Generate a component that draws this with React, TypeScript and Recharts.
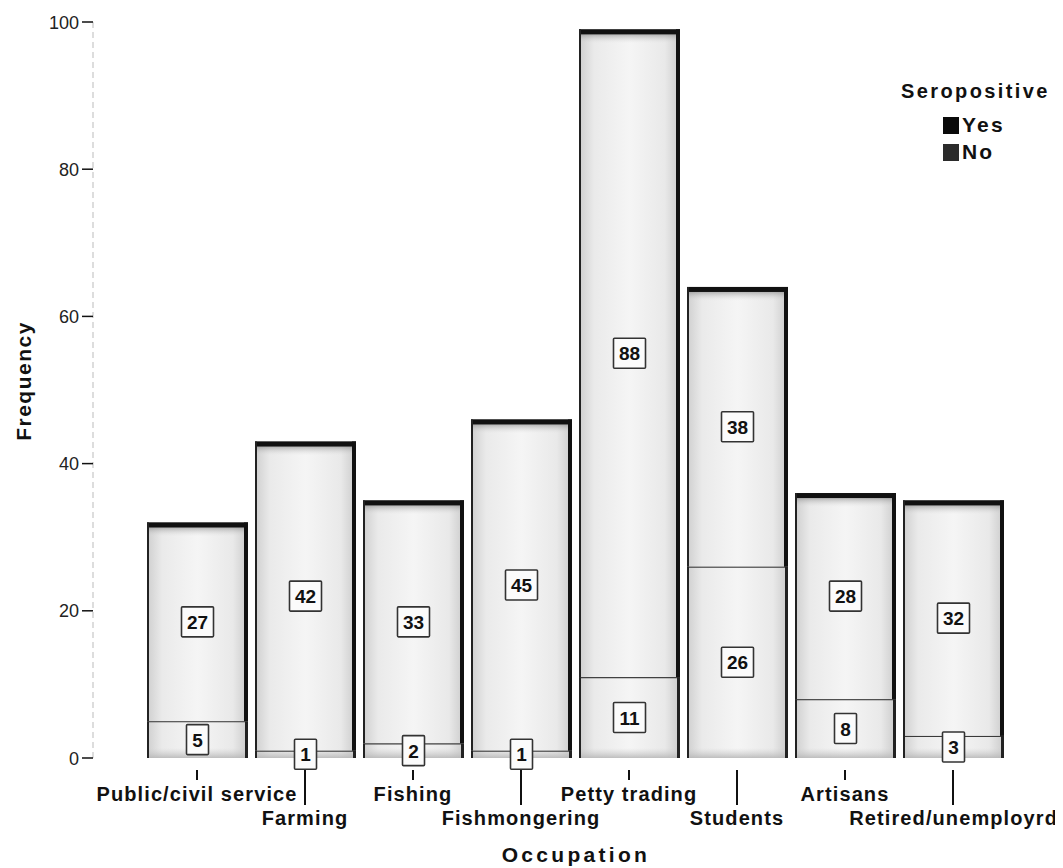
import React from "react";
import { BarChart, Bar, XAxis, YAxis, Legend, LabelList } from "recharts";

const categories = [
  "Public/civil service",
  "Farming",
  "Fishing",
  "Fishmongering",
  "Petty trading",
  "Students",
  "Artisans",
  "Retired/unemployrd",
];
const yesValues = [5, 1, 2, 1, 11, 26, 8, 3];
const noValues = [27, 42, 33, 45, 88, 38, 28, 32];
const yTicks = [0, 20, 40, 60, 80, 100];

const data = categories.map((c, i) => ({ name: c, Yes: yesValues[i], No: noValues[i] }));

const W = 1063;
const H = 868;
const FONT = "'Liberation Sans', Arial, sans-serif";

const YesShape = (props: any) => {
  const { x, y, width, height } = props;
  if (height <= 0) return null;
  return (
    <g>
      <rect x={x} y={y} width={width} height={height} fill="url(#barGrad)" />
      <rect x={x} y={y + height - 10} width={width} height={10} fill="url(#botGrad)" />
      <line x1={x} y1={y} x2={x + width} y2={y} stroke="#3a3a3a" strokeWidth={2.2} />
      <line x1={x + 1} y1={y} x2={x + 1} y2={y + height} stroke="#222" strokeWidth={2} />
      <line x1={x + width - 1.5} y1={y} x2={x + width - 1.5} y2={y + height} stroke="#222" strokeWidth={3} />
    </g>
  );
};

const NoShape = (props: any) => {
  const { x, y, width, height } = props;
  if (height <= 0) return null;
  return (
    <g>
      <rect x={x} y={y} width={width} height={height} fill="url(#barGrad)" />
      <rect x={x} y={y} width={width} height={14} fill="url(#topGrad)" />
      <rect x={x} y={y} width={width} height={5} fill="#111" />
      <line x1={x + 1} y1={y} x2={x + 1} y2={y + height} stroke="#222" strokeWidth={2} />
      <line x1={x + width - 2} y1={y} x2={x + width - 2} y2={y + height} stroke="#111" strokeWidth={4} />
    </g>
  );
};

const BoxLabel = (props: any) => {
  const { x, y, width, height, value } = props;
  const cx = x + width / 2;
  const cy = y + height / 2;
  const s = String(value);
  const bw = s.length > 1 ? 32 : 22;
  const bh = 30;
  return (
    <g>
      <rect
        x={cx - bw / 2}
        y={cy - bh / 2}
        width={bw}
        height={bh}
        fill="#fbfbfb"
        stroke="#333"
        strokeWidth={1.6}
        rx={1}
      />
      <text
        x={cx}
        y={cy + 7}
        textAnchor="middle"
        fontFamily={FONT}
        fontWeight="bold"
        fontSize={19}
        fill="#111"
      >
        {s}
      </text>
    </g>
  );
};

const XTick = (props: any) => {
  const { x, y, payload, index } = props;
  const odd = index % 2 === 1;
  const lineEnd = odd ? 39 : 14;
  const ty = odd ? 59 : 35;
  const last = index === categories.length - 1;
  return (
    <g>
      <line x1={x} y1={y + 4} x2={x} y2={y + lineEnd} stroke="#111" strokeWidth={2} />
      <text
        x={last ? 1058 : x}
        y={y + ty}
        textAnchor={last ? "end" : "middle"}
        fontFamily={FONT}
        fontWeight="bold"
        fontSize={20}
        letterSpacing={1.1}
        fill="#111"
      >
        {payload.value}
      </text>
    </g>
  );
};

const YTick = (props: any) => {
  const { x, y, payload } = props;
  return (
    <text x={x} y={y + 6.5} textAnchor="end" fontFamily={FONT} fontSize={18} fill="#222">
      {payload.value}
    </text>
  );
};

const YLabel = () => (
  <text
    x={31}
    y={381}
    transform="rotate(-90, 31, 381)"
    textAnchor="middle"
    fontFamily={FONT}
    fontWeight="bold"
    fontSize={21}
    letterSpacing={1.5}
    fill="#111"
  >
    Frequency
  </text>
);

const XLabel = () => (
  <text
    x={576}
    y={862}
    textAnchor="middle"
    fontFamily={FONT}
    fontWeight="bold"
    fontSize={21}
    letterSpacing={3.3}
    fill="#111"
  >
    Occupation
  </text>
);

const LegendContent = () => (
  <div style={{ position: "relative", width: 165, height: 95, fontFamily: FONT, fontWeight: "bold", color: "#111" }}>
    <div style={{ position: "absolute", left: 0, top: 0, fontSize: 20, letterSpacing: 2.4, whiteSpace: "nowrap", lineHeight: "22px" }}>
      Seropositive
    </div>
    <div style={{ position: "absolute", left: 42, top: 37, width: 16, height: 17, background: "#0a0a0a" }} />
    <div style={{ position: "absolute", left: 61, top: 34, fontSize: 21, letterSpacing: 2.2, lineHeight: "22px" }}>Yes</div>
    <div style={{ position: "absolute", left: 42, top: 64, width: 16, height: 17, background: "#2b2b2b" }} />
    <div style={{ position: "absolute", left: 61, top: 61, fontSize: 21, letterSpacing: 2.2, lineHeight: "22px" }}>No</div>
  </div>
);

export default function App() {
  return (
    <div style={{ width: W, height: H, background: "#fff", marginLeft: -8, marginTop: -8 }}>
      <BarChart
        width={W}
        height={H}
        data={data}
        margin={{ top: 22, right: 56, bottom: 0, left: 0 }}
        barSize={101}
      >
        <defs>
          <linearGradient id="barGrad" x1="0" y1="0" x2="1" y2="0">
            <stop offset="0%" stopColor="#cfcfcf" />
            <stop offset="15%" stopColor="#eaeaea" />
            <stop offset="50%" stopColor="#f5f5f5" />
            <stop offset="85%" stopColor="#e9e9e9" />
            <stop offset="100%" stopColor="#cbcbcb" />
          </linearGradient>
          <linearGradient id="topGrad" x1="0" y1="0" x2="0" y2="1">
            <stop offset="0%" stopColor="#555" stopOpacity={0.9} />
            <stop offset="100%" stopColor="#ddd" stopOpacity={0} />
          </linearGradient>
          <linearGradient id="botGrad" x1="0" y1="0" x2="0" y2="1">
            <stop offset="0%" stopColor="#ccc" stopOpacity={0} />
            <stop offset="100%" stopColor="#b5b5b5" stopOpacity={0.85} />
          </linearGradient>
        </defs>
        <XAxis
          dataKey="name"
          height={110}
          axisLine={false}
          tickLine={false}
          interval={0}
          padding={{ left: 50, right: 0 }}
          tick={<XTick />}
          label={<XLabel />}
        />
        <YAxis
          width={93}
          domain={[0, 100]}
          ticks={yTicks}
          allowDataOverflow
          axisLine={{ stroke: "#bbb", strokeDasharray: "6 4", strokeWidth: 1 }}
          tickLine={{ stroke: "#111", strokeWidth: 1.5 }}
          tickSize={11}
          tickMargin={3}
          tick={<YTick />}
          label={<YLabel />}
        />
        <Legend
          layout="horizontal"
          verticalAlign="middle"
          align="center"
          wrapperStyle={{ top: 80, left: 901, width: 165, height: 95 }}
          content={<LegendContent />}
        />
        <Bar dataKey="Yes" stackId="a" fill="#0a0a0a" shape={<YesShape />} isAnimationActive={false}>
          <LabelList dataKey="Yes" content={<BoxLabel />} />
        </Bar>
        <Bar dataKey="No" stackId="a" fill="#2b2b2b" shape={<NoShape />} isAnimationActive={false}>
          <LabelList dataKey="No" content={<BoxLabel />} />
        </Bar>
      </BarChart>
    </div>
  );
}
